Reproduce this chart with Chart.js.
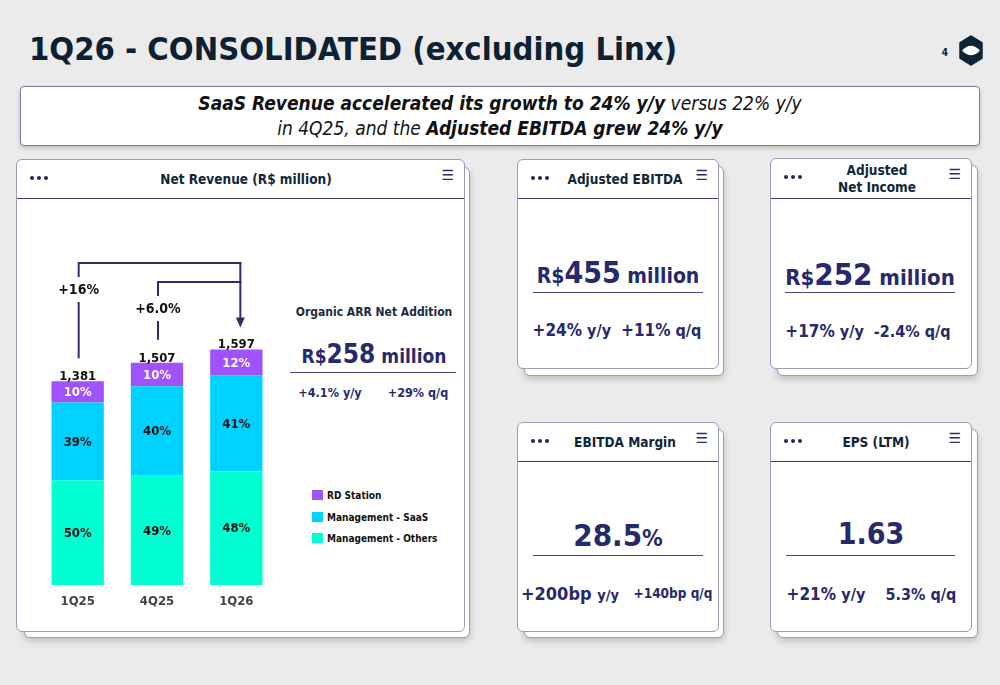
<!DOCTYPE html>
<html>
<head>
<meta charset="utf-8">
<title>1Q26 - Consolidated</title>
<script src="https://cdn.jsdelivr.net/npm/chart.js@4.4.1/dist/chart.umd.min.js"></script>
<style>
body { margin:0; width:1000px; height:685px; background:#ebebeb; overflow:hidden; position:relative;
       font-family:"DejaVu Sans Condensed","DejaVu Sans",sans-serif; }
.card, .back { position:absolute; background:#fff; border:1px solid #9c9cb9; border-radius:6px; box-sizing:border-box; }
.back { box-shadow:0 3px 7px rgba(0,0,0,0.2); }
.head { position:absolute; left:0; right:0; top:0; height:38px; border-bottom:1.5px solid #3b3f70; }
.dots { position:absolute; left:13px; top:15px; line-height:0; }
.dots span { display:inline-block; width:4px; height:4px; border-radius:50%; background:#23265c; margin-right:3px; }
.menu { position:absolute; right:10px; top:7px; font-family:"DejaVu Sans"; font-size:14px; color:#2b2e6b; }
.c { position:absolute; transform:translate(-50%,-50%); white-space:nowrap; font-weight:bold; }
.htitle { font-size:13.5px; color:#10273a; text-align:center; line-height:17px; }
.val { color:#26296b; }
.rule { position:absolute; height:1px; background:#4a4d7e; }
.leg { position:absolute; left:312px; font-size:10px; font-weight:bold; color:#111; line-height:11px; }
.leg i { display:inline-block; width:11px; height:10px; vertical-align:-1px; margin-right:4px; }
</style>
</head>
<body>

<div style="position:absolute; left:29px; top:29px; font-size:32.5px; font-weight:bold; line-height:40px; color:#0c2234; white-space:nowrap;">1Q26 - CONSOLIDATED (excluding Linx)</div>
<div class="c" style="left:945px; top:52px; font-size:10px; color:#0c2234;">4</div>
<svg style="position:absolute; left:959px; top:35px;" width="24" height="31" viewBox="0 0 24 31">
  <path d="M12 1.5 L22.5 8 L22.5 23 L12 29.5 L1.5 23 L1.5 8 Z" fill="#0d2436" stroke="#0d2436" stroke-width="2.5" stroke-linejoin="round"/>
  <path d="M3 15.5 Q12 6 21 15.5 Q12 25 3 15.5 Z" fill="#fff"/>
</svg>

<div class="card" style="left:20px; top:86px; width:960px; height:60px; border-color:#7a7aa0; border-radius:4px; box-shadow:0 2px 4px rgba(0,0,0,0.2);"></div>
<div class="c" style="left:500px; top:103px; font-size:19px; font-style:italic; color:#111;">SaaS Revenue accelerated its growth to 24% y/y<span style="font-weight:normal"> versus 22% y/y</span></div>
<div class="c" style="left:500px; top:128px; font-size:19px; font-style:italic; color:#111;"><span style="font-weight:normal">in 4Q25, and the </span>Adjusted EBITDA grew 24% y/y</div>

<!-- Net Revenue card -->
<div class="back" style="left:24px; top:167px; width:446px; height:471px;"></div>
<div class="card" style="left:16px; top:159px; width:449px; height:473px;">
  <div class="head"><div class="dots"><span></span><span></span><span></span></div><div class="menu">☰</div></div>
</div>
<div class="c htitle" style="left:246px; top:179px;">Net Revenue (R$ million)</div>
<canvas id="revChart" width="238" height="370" style="position:absolute; left:38px; top:250px;"></canvas>

<div class="c" style="left:374px; top:312px; font-size:12px; color:#1b2a3c;">Organic ARR Net Addition</div>
<div class="c val" style="left:374px; top:354px; font-size:19px;">R$<span style="font-size:26px">258</span> million</div>
<div class="rule" style="left:290px; top:372px; width:166px;"></div>
<div class="c val" style="left:330px; top:392px; font-size:12.5px;">+4.1% y/y</div>
<div class="c val" style="left:418px; top:392px; font-size:12.5px;">+29% q/q</div>

<div class="leg" style="top:490px;"><i style="background:#a052ff"></i>RD Station</div>
<div class="leg" style="top:512px;"><i style="background:#00d2ff"></i>Management - SaaS</div>
<div class="leg" style="top:533px;"><i style="background:#00ffd2"></i>Management - Others</div>

<!-- Adjusted EBITDA -->
<div class="back" style="left:524px; top:166px; width:200px; height:210px;"></div>
<div class="card" style="left:517px; top:159px; width:202px; height:210px;">
  <div class="head"><div class="dots"><span></span><span></span><span></span></div><div class="menu">☰</div></div>
</div>
<div class="c htitle" style="left:625px; top:179px;">Adjusted EBITDA</div>
<div class="c val" style="left:618px; top:272px; font-size:21px;">R$<span style="font-size:30px">455</span> million</div>
<div class="rule" style="left:533px; top:292px; width:170px;"></div>
<div class="c val" style="left:617px; top:330px; font-size:16px;"><span style="font-size:17px">+24%</span> y/y &nbsp;<span style="font-size:17px">+11%</span> q/q</div>

<!-- Adjusted Net Income -->
<div class="back" style="left:777px; top:165px; width:201px; height:211px;"></div>
<div class="card" style="left:770px; top:158px; width:202px; height:211px;">
  <div class="head" style="height:39px"><div class="dots"><span></span><span></span><span></span></div><div class="menu">☰</div></div>
</div>
<div class="c htitle" style="left:877px; top:179px;">Adjusted<br>Net Income</div>
<div class="c val" style="left:870px; top:274px; font-size:22px;">R$<span style="font-size:31px">252</span> million</div>
<div class="rule" style="left:785px; top:292px; width:170px;"></div>
<div class="c val" style="left:868px; top:331px; font-size:16px;"><span style="font-size:17px">+17%</span> y/y &nbsp;-2.4% q/q</div>

<!-- EBITDA Margin -->
<div class="back" style="left:524px; top:429px; width:200px; height:209px;"></div>
<div class="card" style="left:517px; top:422px; width:202px; height:210px;">
  <div class="head"><div class="dots"><span></span><span></span><span></span></div><div class="menu">☰</div></div>
</div>
<div class="c htitle" style="left:625px; top:442px;">EBITDA Margin</div>
<div class="c val" style="left:618px; top:535px; font-size:31px;">28.5<span style="font-size:23px">%</span></div>
<div class="rule" style="left:533px; top:555px; width:170px;"></div>
<div class="c val" style="left:570px; top:593px; font-size:18px;">+200bp <span style="font-size:14.5px">y/y</span></div>
<div class="c val" style="left:673px; top:593px; font-size:13.5px;">+140bp q/q</div>

<!-- EPS -->
<div class="back" style="left:777px; top:429px; width:201px; height:209px;"></div>
<div class="card" style="left:770px; top:422px; width:202px; height:210px;">
  <div class="head"><div class="dots"><span></span><span></span><span></span></div><div class="menu">☰</div></div>
</div>
<div class="c htitle" style="left:876px; top:442px;">EPS (LTM)</div>
<div class="c val" style="left:871px; top:533px; font-size:30px;">1.63</div>
<div class="rule" style="left:786px; top:555px; width:169px;"></div>
<div class="c val" style="left:826px; top:594px; font-size:17px;">+21% <span style="font-size:16px">y/y</span></div>
<div class="c val" style="left:921px; top:594px; font-size:16px;">5.3% q/q</div>

<script>
let quarters = ["1Q25", "4Q25", "1Q26"];
let netRevenue = [1381, 1507, 1597];
let mgmtOthers = [711, 741, 772];
let mgmtSaas = [527, 607, 648];
let rdStation = [143, 159, 177];
let othersShare = ["50%", "49%", "48%"];
let saasShare = ["39%", "40%", "41%"];
let rdShare = ["10%", "10%", "12%"];
// growth into the last quarter, from 1Q25 and from 4Q25
let growthFrom = [0, 1];
let growthLabels = ["+16%", "+6.0%"];

let chartFont = '"DejaVu Sans Condensed", "DejaVu Sans", sans-serif';

function drawLine(ctx, x1, y1, x2, y2) {
    ctx.beginPath();
    ctx.moveTo(x1, y1);
    ctx.lineTo(x2, y2);
    ctx.stroke();
}

let segmentLabels = {
    id: 'segmentLabels',
    afterDatasetsDraw(chart) {
        let ctx = chart.ctx;
        ctx.save();
        ctx.textAlign = 'center';
        ctx.textBaseline = 'middle';
        ctx.font = 'bold 13px ' + chartFont;
        chart.data.datasets.forEach((ds, i) => {
            ctx.fillStyle = ds.labelColor;
            chart.getDatasetMeta(i).data.forEach((bar, j) => {
                ctx.fillText(ds.shares[j], bar.x, (bar.y + bar.base) / 2 + 1);
            });
        });
        // totals sit on top of the stack
        let top = chart.getDatasetMeta(chart.data.datasets.length - 1).data;
        ctx.font = 'bold 13px ' + chartFont;
        ctx.fillStyle = '#111';
        ctx.textBaseline = 'alphabetic';
        top.forEach((bar, j) => {
            ctx.fillText(netRevenue[j].toLocaleString('en-US'), bar.x, bar.y - 1);
        });
        ctx.restore();
    }
};

let growthArrows = {
    id: 'growthArrows',
    afterDraw(chart) {
        let ctx = chart.ctx;
        let bars = chart.getDatasetMeta(chart.data.datasets.length - 1).data;
        let target = bars[bars.length - 1];
        let arrowX = target.x + 4;
        let levels = [chart.chartArea.top - 27, chart.chartArea.top - 8];
        ctx.save();
        ctx.strokeStyle = '#2b2e6b';
        ctx.fillStyle = '#2b2e6b';
        ctx.lineWidth = 2;
        growthFrom.forEach((src, k) => {
            let x = bars[src].x + 1;
            let y = levels[k];
            let textY = y + 27;
            drawLine(ctx, x, y, arrowX + 1, y);
            drawLine(ctx, x, y - 1, x, textY - 13);
            drawLine(ctx, x, textY + 12, x, bars[src].y - 23);
            ctx.save();
            ctx.fillStyle = '#111';
            ctx.font = 'bold 14px ' + chartFont;
            ctx.textAlign = 'center';
            ctx.textBaseline = 'middle';
            ctx.fillText(growthLabels[k], x, textY);
            ctx.restore();
        });
        let tip = target.y - 22;
        drawLine(ctx, arrowX, levels[0] - 1, arrowX, tip - 8);
        ctx.beginPath();
        ctx.moveTo(arrowX - 4.5, tip - 10);
        ctx.lineTo(arrowX + 4.5, tip - 10);
        ctx.lineTo(arrowX, tip);
        ctx.closePath();
        ctx.fill();
        ctx.restore();
    }
};

let ctx = document.getElementById("revChart").getContext("2d");
let chart = new Chart(ctx, {
    type: 'bar',
    data: {
        labels: quarters,
        datasets: [
            { label: "Management - Others", data: mgmtOthers, backgroundColor: "#00ffd2", shares: othersShare, labelColor: "#111" },
            { label: "Management - SaaS", data: mgmtSaas, backgroundColor: "#00d2ff", shares: saasShare, labelColor: "#111" },
            { label: "RD Station", data: rdStation, backgroundColor: "#a052ff", shares: rdShare, labelColor: "#fff" }
        ]
    },
    options: {
        responsive: false,
        animation: false,
        layout: { padding: { top: 40, left: 0, right: 0, bottom: 0 } },
        datasets: { bar: { barPercentage: 0.66, categoryPercentage: 1, borderWidth: 0 } },
        plugins: { legend: { display: false }, tooltip: { enabled: false } },
        scales: {
            x: {
                stacked: true,
                grid: { display: false, drawTicks: false },
                border: { display: false },
                ticks: { color: "#444", padding: 9, font: { family: chartFont, size: 13, weight: 'bold' } },
                afterFit: s => { s.height = 35; }
            },
            y: { stacked: true, display: false, min: 0, max: 2000 }
        }
    },
    plugins: [segmentLabels, growthArrows]
});
</script>
</body>
</html>
